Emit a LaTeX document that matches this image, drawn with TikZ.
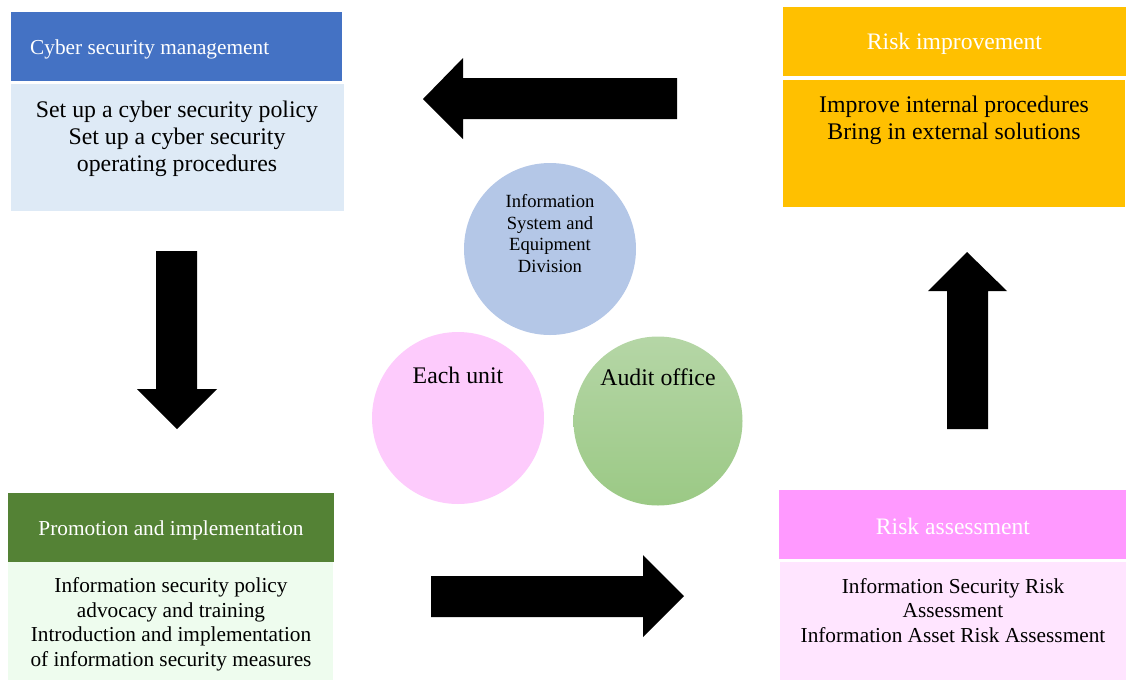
\documentclass[tikz,border=0pt]{standalone}
\usepackage{fontspec}
\setmainfont{Liberation Serif}
\begin{document}
\begin{tikzpicture}[x=1pt,y=-1pt,
  panel/.style={rectangle, inner sep=0pt, anchor=north west, draw=none},
  headtext/.style={text=white, inner sep=0pt, align=center},
  bodytext/.style={text=black, inner sep=0pt, align=center},
  disc/.style={circle, inner sep=0pt, draw=none},
  blockarrow/.style={fill=black, draw=none}]
\definecolor{cbHead}{HTML}{4472C4}
\definecolor{cbBody}{HTML}{DEEAF6}
\definecolor{riHead}{HTML}{FFC000}
\definecolor{piHead}{HTML}{548235}
\definecolor{piBody}{HTML}{EEFCEE}
\definecolor{raHead}{HTML}{FF99FF}
\definecolor{raBody}{HTML}{FFE5FF}
\definecolor{isCirc}{HTML}{B4C7E7}
\definecolor{euCirc}{HTML}{FDCBFC}
\definecolor{aoTop}{HTML}{B5D6A6}
\definecolor{aoBot}{HTML}{9BC985}

\useasboundingbox (0,0) rectangle (1128,681);

% Cyber security management
\node[panel, fill=cbHead, minimum width=331pt, minimum height=69pt] (cbh) at (11,12) {};
\node[panel, fill=cbBody, minimum width=333pt, minimum height=127pt] (cbb) at (11,84) {};
\node[headtext, anchor=west, font=\fontsize{21.3}{24.5}\selectfont] (cbht) at (30,49) {Cyber security management};
\node[bodytext, font=\fontsize{23.8}{27}\selectfont] (cbbt) at (177,138.5)
  {Set up a cyber security policy\\Set up a cyber security\\operating procedures};

% Risk improvement
\node[panel, fill=riHead, minimum width=343pt, minimum height=69pt] (rih) at (783,7) {};
\node[panel, fill=riHead, minimum width=342pt, minimum height=127pt] (rib) at (783,80) {};
\node[headtext, font=\fontsize{23.6}{27}\selectfont] (riht) at (954.5,44) {Risk improvement};
\node[bodytext, font=\fontsize{23.8}{27}\selectfont] (ribt) at (954,120.5)
  {Improve internal procedures\\Bring in external solutions};

% Promotion and implementation
\node[panel, fill=piHead, minimum width=326pt, minimum height=69pt] (pih) at (8,493) {};
\node[panel, fill=piBody, minimum width=325pt, minimum height=118pt] (pib) at (8,562) {};
\node[headtext, font=\fontsize{21.3}{24.5}\selectfont] (piht) at (171,530) {Promotion and implementation};
\node[bodytext, font=\fontsize{21.3}{24.5}\selectfont] (pibt) at (171,624.5)
  {Information security policy\\advocacy and training\\Introduction and implementation\\of information security measures};

% Risk assessment
\node[panel, fill=raHead, minimum width=347pt, minimum height=69pt] (rah) at (779,490) {};
\node[panel, fill=raBody, minimum width=346pt, minimum height=118pt] (rab) at (780,562) {};
\node[headtext, font=\fontsize{23.6}{27}\selectfont] (raht) at (953,526.5) {Risk assessment};
\node[bodytext, font=\fontsize{21.3}{24.5}\selectfont] (rabt) at (953,610.5)
  {Information Security Risk\\Assessment\\Information Asset Risk Assessment};

% Responsible units
\node[disc, fill=isCirc, minimum size=172pt] (isc) at (550,249) {};
\node[disc, fill=euCirc, minimum size=172pt] (euc) at (458,418) {};
\node[disc, top color=aoTop, bottom color=aoBot, minimum size=169pt] (aoc) at (658,421) {};
\node[bodytext, font=\fontsize{18.6}{21.4}\selectfont] (isct) at (550,233.5)
  {Information\\System and\\Equipment\\Division};
\node[bodytext, font=\fontsize{23.8}{27}\selectfont] (euct) at (458,375) {Each unit};
\node[bodytext, font=\fontsize{23.8}{27}\selectfont] (aoct) at (658,377) {Audit office};

% Cycle arrows
\fill[blockarrow] (677,78) -- (463,78) -- (463,58) -- (423,99) -- (463,139) -- (463,119) -- (677,119) -- cycle;
\fill[blockarrow] (156,251) -- (156,389) -- (137,389) -- (177,429) -- (217,389) -- (197,389) -- (197,251) -- cycle;
\fill[blockarrow] (431,576) -- (643,576) -- (643,555) -- (684,596) -- (643,637) -- (643,617) -- (431,617) -- cycle;
\fill[blockarrow] (947,429) -- (947,291) -- (928,291) -- (967,252) -- (1007,291) -- (988,291) -- (988,429) -- cycle;
\end{tikzpicture}
\end{document}
